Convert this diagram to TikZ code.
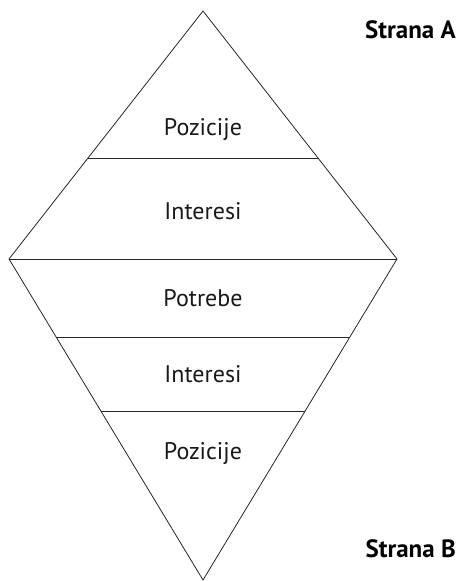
\documentclass[tikz,border=0pt]{standalone}
\usepackage{fontspec}
\setmainfont{PT Sans}
\begin{document}
\begin{tikzpicture}[x=1pt,y=-1pt,
  edge/.style={draw=black!85,line width=0.8pt},
  lbl/.style={font=\fontsize{24}{26}\selectfont,text=black!90,anchor=base,inner sep=0pt},
  side/.style={font=\bfseries\fontsize{25}{27}\selectfont,text=black,anchor=base east,inner sep=0pt}]
\useasboundingbox (0,0) rectangle (459,581);
\coordinate (T) at (203,11);
\coordinate (L) at (9,259);
\coordinate (R) at (397,259);
\coordinate (B) at (203,580);
\draw[edge,line join=miter] (T) -- (L) -- (B) -- (R) -- cycle;
\draw[edge] (L) -- (R);
\coordinate (a1) at (88,158); \coordinate (a2) at (318,158);
\coordinate (b1) at (56.5,337); \coordinate (b2) at (349.5,337);
\coordinate (c1) at (101,411); \coordinate (c2) at (305,411);
\draw[edge] (a1) -- (a2);
\draw[edge] (b1) -- (b2);
\draw[edge] (c1) -- (c2);
\node[lbl] (p1) at (203,135) {Pozicije};
\node[lbl] (i1) at (203,219) {Interesi};
\node[lbl] (pt) at (203,306) {Potrebe};
\node[lbl] (i2) at (203,382) {Interesi};
\node[lbl] (p2) at (203,459) {Pozicije};
\node[side] (sa) at (456,38) {Strana A};
\node[side] (sb) at (456,557) {Strana B};
\end{tikzpicture}
\end{document}
